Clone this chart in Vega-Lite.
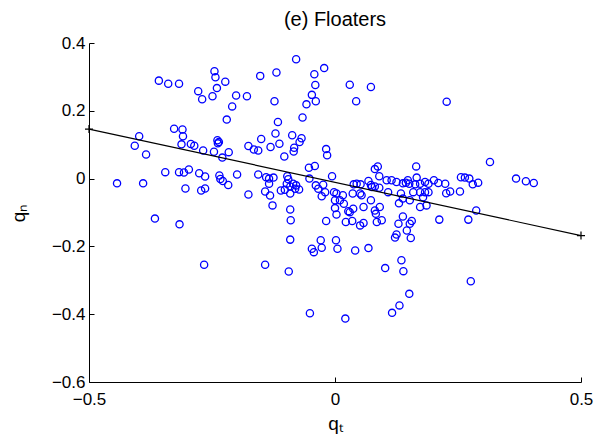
{
  "$schema": "https://vega.github.io/schema/vega-lite/v6.json",
  "width": 492,
  "height": 339,
  "autosize": "none",
  "padding": {"left": 89, "top": 43, "right": 17, "bottom": 58},
  "background": "white",
  "title": {"text": "(e) Floaters", "font": "Liberation Sans", "fontSize": 20, "fontWeight": "normal", "color": "black", "frame": "group", "anchor": "middle", "offset": 4},
  "config": {
    "view": {"stroke": null},
    "axis": {
      "grid": false,
      "labelFlush": false,
      "labelOverlap": false,
      "domainColor": "black",
      "domainWidth": 1,
      "tickColor": "black",
      "tickWidth": 1,
      "tickSize": -5,
      "labelColor": "black",
      "labelFont": "Liberation Sans",
      "labelFontSize": 17,
      "titleColor": "black",
      "titleFont": "Liberation Sans",
      "titleFontSize": 19,
      "titleFontWeight": "normal"
    }
  },
  "datasets": {
    "pts": [
      {"x": -0.358, "y": 0.289}, {"x": -0.339, "y": 0.280}, {"x": -0.317, "y": 0.280}, {"x": -0.245, "y": 0.317},
      {"x": -0.243, "y": 0.299}, {"x": -0.223, "y": 0.286}, {"x": -0.278, "y": 0.258}, {"x": -0.270, "y": 0.234},
      {"x": -0.249, "y": 0.243}, {"x": -0.240, "y": 0.267}, {"x": -0.201, "y": 0.245}, {"x": -0.179, "y": 0.243},
      {"x": -0.209, "y": 0.213}, {"x": -0.220, "y": 0.174}, {"x": -0.327, "y": 0.147}, {"x": -0.310, "y": 0.145},
      {"x": -0.309, "y": 0.125}, {"x": -0.398, "y": 0.125}, {"x": -0.407, "y": 0.097}, {"x": -0.384, "y": 0.071},
      {"x": -0.312, "y": 0.101}, {"x": -0.293, "y": 0.102}, {"x": -0.286, "y": 0.097}, {"x": -0.268, "y": 0.083},
      {"x": -0.239, "y": 0.113}, {"x": -0.236, "y": 0.108}, {"x": -0.238, "y": 0.104}, {"x": -0.246, "y": 0.079},
      {"x": -0.216, "y": 0.078}, {"x": -0.229, "y": 0.062}, {"x": -0.176, "y": 0.096}, {"x": -0.443, "y": -0.014},
      {"x": -0.390, "y": -0.014}, {"x": -0.345, "y": 0.019}, {"x": -0.317, "y": 0.019}, {"x": -0.307, "y": 0.018},
      {"x": -0.297, "y": 0.027}, {"x": -0.276, "y": 0.016}, {"x": -0.264, "y": 0.006}, {"x": -0.304, "y": -0.029},
      {"x": -0.272, "y": -0.035}, {"x": -0.264, "y": -0.029}, {"x": -0.235, "y": 0.009}, {"x": -0.233, "y": -0.001},
      {"x": -0.228, "y": -0.007}, {"x": -0.217, "y": -0.019}, {"x": -0.199, "y": 0.012}, {"x": -0.176, "y": -0.047},
      {"x": -0.366, "y": -0.118}, {"x": -0.316, "y": -0.135}, {"x": -0.266, "y": -0.254}, {"x": -0.079, "y": 0.352},
      {"x": -0.152, "y": 0.303}, {"x": -0.119, "y": 0.313}, {"x": -0.042, "y": 0.308}, {"x": -0.022, "y": 0.326},
      {"x": -0.040, "y": 0.276}, {"x": 0.030, "y": 0.277}, {"x": 0.073, "y": 0.270}, {"x": -0.123, "y": 0.228},
      {"x": -0.047, "y": 0.247}, {"x": -0.058, "y": 0.219}, {"x": -0.039, "y": 0.228}, {"x": 0.043, "y": 0.228},
      {"x": -0.116, "y": 0.167}, {"x": -0.066, "y": 0.180}, {"x": -0.121, "y": 0.133}, {"x": -0.150, "y": 0.117},
      {"x": -0.087, "y": 0.128}, {"x": -0.068, "y": 0.119}, {"x": -0.072, "y": 0.108}, {"x": -0.113, "y": 0.103},
      {"x": -0.165, "y": 0.086}, {"x": -0.156, "y": 0.083}, {"x": -0.131, "y": 0.093}, {"x": -0.083, "y": 0.091},
      {"x": -0.084, "y": 0.080}, {"x": -0.103, "y": 0.065}, {"x": -0.018, "y": 0.087}, {"x": -0.016, "y": 0.069},
      {"x": 0.227, "y": 0.227}, {"x": 0.165, "y": 0.036}, {"x": 0.315, "y": 0.049}, {"x": -0.053, "y": 0.032},
      {"x": -0.041, "y": 0.037}, {"x": 0.081, "y": 0.028}, {"x": 0.087, "y": 0.036}, {"x": 0.090, "y": 0.007},
      {"x": -0.156, "y": 0.012}, {"x": -0.140, "y": 0.004}, {"x": -0.134, "y": 0.000}, {"x": -0.125, "y": 0.003},
      {"x": -0.134, "y": -0.015}, {"x": -0.142, "y": -0.038}, {"x": -0.132, "y": -0.050}, {"x": -0.127, "y": -0.079},
      {"x": -0.097, "y": 0.007}, {"x": -0.095, "y": -0.002}, {"x": -0.098, "y": -0.015}, {"x": -0.091, "y": -0.023},
      {"x": -0.085, "y": -0.015}, {"x": -0.079, "y": -0.020}, {"x": -0.073, "y": -0.032}, {"x": -0.081, "y": -0.030},
      {"x": -0.102, "y": -0.033}, {"x": -0.110, "y": -0.035}, {"x": -0.091, "y": -0.044}, {"x": -0.052, "y": 0.000},
      {"x": -0.039, "y": -0.020}, {"x": -0.034, "y": -0.030}, {"x": -0.024, "y": -0.018}, {"x": -0.020, "y": -0.040},
      {"x": -0.027, "y": -0.052}, {"x": -0.006, "y": 0.007}, {"x": -0.002, "y": -0.040}, {"x": 0.003, "y": -0.044},
      {"x": 0.016, "y": -0.049}, {"x": 0.000, "y": -0.064}, {"x": 0.010, "y": -0.064}, {"x": 0.018, "y": -0.074},
      {"x": 0.000, "y": -0.087}, {"x": 0.003, "y": -0.106}, {"x": -0.018, "y": -0.125}, {"x": 0.027, "y": -0.096},
      {"x": -0.091, "y": -0.091}, {"x": -0.090, "y": -0.123}, {"x": -0.091, "y": -0.180}, {"x": 0.038, "y": -0.017},
      {"x": 0.044, "y": -0.015}, {"x": 0.052, "y": -0.017}, {"x": 0.068, "y": -0.007}, {"x": 0.073, "y": -0.019},
      {"x": 0.036, "y": -0.044}, {"x": 0.051, "y": -0.044}, {"x": 0.054, "y": -0.049}, {"x": 0.075, "y": -0.025},
      {"x": 0.081, "y": -0.023}, {"x": 0.090, "y": -0.027}, {"x": 0.105, "y": -0.005}, {"x": 0.115, "y": -0.005},
      {"x": 0.125, "y": -0.010}, {"x": 0.138, "y": -0.014}, {"x": 0.144, "y": -0.012}, {"x": 0.148, "y": -0.005},
      {"x": 0.108, "y": -0.040}, {"x": 0.134, "y": -0.044}, {"x": 0.138, "y": -0.059}, {"x": 0.130, "y": -0.073},
      {"x": 0.037, "y": -0.089}, {"x": 0.030, "y": -0.099}, {"x": 0.058, "y": -0.084}, {"x": 0.073, "y": -0.064},
      {"x": 0.081, "y": -0.094}, {"x": 0.091, "y": -0.084}, {"x": 0.083, "y": -0.104}, {"x": 0.085, "y": -0.128},
      {"x": 0.095, "y": -0.123}, {"x": 0.022, "y": -0.128}, {"x": 0.035, "y": -0.125}, {"x": 0.051, "y": -0.138},
      {"x": 0.058, "y": -0.131}, {"x": -0.029, "y": -0.182}, {"x": -0.047, "y": -0.207}, {"x": -0.043, "y": -0.217},
      {"x": -0.027, "y": -0.204}, {"x": 0.002, "y": -0.182}, {"x": 0.005, "y": -0.207}, {"x": 0.041, "y": -0.212},
      {"x": 0.068, "y": -0.205}, {"x": -0.142, "y": -0.254}, {"x": -0.094, "y": -0.274}, {"x": 0.122, "y": -0.174},
      {"x": 0.125, "y": -0.165}, {"x": 0.129, "y": -0.133}, {"x": 0.138, "y": -0.112}, {"x": 0.146, "y": -0.153},
      {"x": 0.154, "y": -0.175}, {"x": 0.135, "y": -0.241}, {"x": 0.139, "y": -0.273}, {"x": 0.102, "y": -0.264},
      {"x": 0.151, "y": -0.015}, {"x": 0.163, "y": -0.017}, {"x": 0.166, "y": 0.003}, {"x": 0.173, "y": -0.015},
      {"x": 0.183, "y": -0.010}, {"x": 0.190, "y": -0.015}, {"x": 0.201, "y": -0.005}, {"x": 0.210, "y": -0.013},
      {"x": 0.224, "y": -0.015}, {"x": 0.226, "y": -0.043}, {"x": 0.234, "y": -0.038}, {"x": 0.254, "y": -0.038},
      {"x": 0.256, "y": 0.004}, {"x": 0.264, "y": 0.003}, {"x": 0.273, "y": 0.000}, {"x": 0.280, "y": -0.017},
      {"x": 0.291, "y": -0.012}, {"x": 0.368, "y": 0.000}, {"x": 0.388, "y": -0.008}, {"x": 0.404, "y": -0.013},
      {"x": 0.159, "y": -0.040}, {"x": 0.173, "y": -0.040}, {"x": 0.183, "y": -0.040}, {"x": 0.190, "y": -0.040},
      {"x": 0.179, "y": -0.055}, {"x": 0.152, "y": -0.064}, {"x": 0.173, "y": -0.084}, {"x": 0.186, "y": -0.079},
      {"x": 0.287, "y": -0.094}, {"x": 0.212, "y": -0.121}, {"x": 0.271, "y": -0.121}, {"x": 0.156, "y": -0.125},
      {"x": 0.152, "y": -0.133}, {"x": 0.276, "y": -0.303}, {"x": -0.051, "y": -0.397}, {"x": 0.021, "y": -0.413},
      {"x": 0.116, "y": -0.396}, {"x": 0.131, "y": -0.374}, {"x": 0.151, "y": -0.340}
    ],
    "fit": [
      {"x": -0.5, "y": 0.146},
      {"x": 0.5, "y": -0.168}
    ]
  },
  "layer": [
    {
      "data": {"name": "pts"},
      "mark": {"type": "point", "shape": "circle", "filled": false, "color": "blue", "size": 52, "strokeWidth": 1.3, "opacity": 1},
      "encoding": {
        "x": {"field": "x", "type": "quantitative", "scale": {"domain": [-0.5, 0.5], "nice": false, "zero": false},
              "axis": {"values": [-0.5, 0, 0.5], "format": "~g", "title": "qₜ", "labelPadding": 14, "titlePadding": 7}},
        "y": {"field": "y", "type": "quantitative", "scale": {"domain": [-0.6, 0.4], "nice": false, "zero": false},
              "axis": {"values": [-0.6, -0.4, -0.2, 0, 0.2, 0.4], "format": "~g", "title": "qₙ", "labelPadding": 9, "titlePadding": 23}}
      }
    },
    {
      "data": {"name": "fit"},
      "mark": {"type": "line", "color": "black", "strokeWidth": 1.2},
      "encoding": {
        "x": {"field": "x", "type": "quantitative"},
        "y": {"field": "y", "type": "quantitative"}
      }
    },
    {
      "data": {"name": "fit"},
      "mark": {"type": "point", "shape": "M-1,0L1,0M0,-1L0,1", "filled": false, "color": "black", "size": 64, "strokeWidth": 1.2, "opacity": 1},
      "encoding": {
        "x": {"field": "x", "type": "quantitative"},
        "y": {"field": "y", "type": "quantitative"}
      }
    }
  ]
}
